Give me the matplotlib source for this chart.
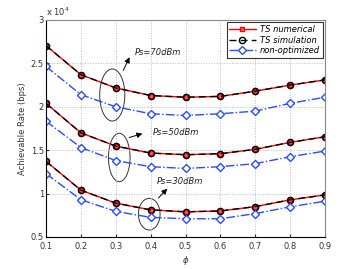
import numpy as np
import matplotlib.pyplot as plt
from matplotlib.patches import Ellipse

# datos (x 1e4)
phi = [0.1, 0.2, 0.3, 0.4, 0.5, 0.6, 0.7, 0.8, 0.9]

ts70 = [2.705, 2.37, 2.217, 2.13, 2.11, 2.12, 2.18, 2.25, 2.31]
no70 = [2.465, 2.14, 2.00, 1.92, 1.90, 1.92, 1.95, 2.04, 2.11]
ts50 = [2.04, 1.70, 1.547, 1.467, 1.448, 1.46, 1.51, 1.59, 1.655]
no50 = [1.834, 1.53, 1.38, 1.31, 1.29, 1.31, 1.345, 1.425, 1.49]
ts30 = [1.372, 1.04, 0.89, 0.813, 0.79, 0.80, 0.85, 0.928, 0.985]
no30 = [1.23, 0.93, 0.795, 0.726, 0.71, 0.71, 0.77, 0.847, 0.913]

etiquetas = ['Ps=70dBm', 'Ps=50dBm', 'Ps=30dBm']

fig = plt.figure(figsize=(3.58, 2.69), dpi=100)
ax = fig.add_axes([46/358, 1-237/269, (325-46)/358, (237-20)/269])

for i, (ts, no) in enumerate([(ts70, no70), (ts50, no50), (ts30, no30)]):
    ts = np.array(ts) * 1e4
    no = np.array(no) * 1e4
    ax.plot(phi, ts, '-', color='red', lw=1.0, marker='s', ms=3.5,
            mfc='#ff6060', mec='red', label='TS numerical' if i == 0 else None)
    ax.plot(phi, ts, '--', color='black', lw=1.0, dashes=(5, 3), marker='o', ms=4.5,
            mfc='none', mec='black', mew=1.0, label='TS simulation' if i == 0 else None)
    ax.plot(phi, no, '-.', color='#2a4cff', lw=1.0, marker='D', ms=3.6,
            mfc='white', mec='#2a4cff', mew=1.0, label='non-optimized' if i == 0 else None)

# elipses y flechas
elipses = [(0.29, 2.136, 0.072, 0.60), (0.31, 1.416, 0.062, 0.558), (0.396, 0.763, 0.062, 0.365)]
flechas = [((0.318, 2.39), (0.343, 2.60)), ((0.331, 1.637), (0.384, 1.70)), ((0.417, 0.926), (0.453, 1.08))]
textos = [(0.355, 2.63), (0.407, 1.70), (0.417, 1.137)]
for (cx, cy, w, h), (p0, p1), (tx, ty), lab in zip(elipses, flechas, textos, etiquetas):
    ax.add_patch(Ellipse((cx, cy * 1e4), w, h * 1e4, fill=False, ec='#333333', lw=0.7))
    ax.annotate('', xy=(p1[0], p1[1] * 1e4), xytext=(p0[0], p0[1] * 1e4),
                arrowprops=dict(arrowstyle='-|>', color='black', lw=0.7, mutation_scale=8))
    ax.text(tx, ty * 1e4, lab, fontsize=6, style='italic', va='center', ha='left', color='#222222')

ax.set_xlim(0.1, 0.9)
ax.set_ylim(5000, 30000)
ax.set_xticks(phi)
ax.set_xticklabels([str(p) for p in phi])
ax.set_yticks([5000, 10000, 15000, 20000, 25000, 30000])
ax.set_yticklabels(['0.5', '1', '1.5', '2', '2.5', '3'])
ax.tick_params(labelsize=6, length=2, direction='in', colors='#333333', pad=1.5)
ax.tick_params(axis='x', pad=3.5)
ax.text(0.0, 1.01, r'x 10$^4$', transform=ax.transAxes, fontsize=6, color='#333333', va='bottom')
ax.grid(True, ls=':', color='#bbbbbb', lw=0.7)
for s in ['top', 'right']:
    ax.spines[s].set_color('#888888')
for s in ['left', 'bottom']:
    ax.spines[s].set_color('black')
ax.set_xlabel(r'$\phi$', fontsize=6, labelpad=2, color='#333333')
ax.set_ylabel('Achievable Rate (bps)', fontsize=6, labelpad=3, color='#333333')

leg = ax.legend(loc='upper right', fontsize=6, prop={'style': 'italic', 'size': 6},
                frameon=True, fancybox=False, edgecolor='black', borderpad=0.3,
                labelspacing=0.2, handlelength=3.2, handletextpad=0.5,
                borderaxespad=0.3)
leg.get_frame().set_linewidth(0.8)

plt.savefig('out.png', dpi=100)
